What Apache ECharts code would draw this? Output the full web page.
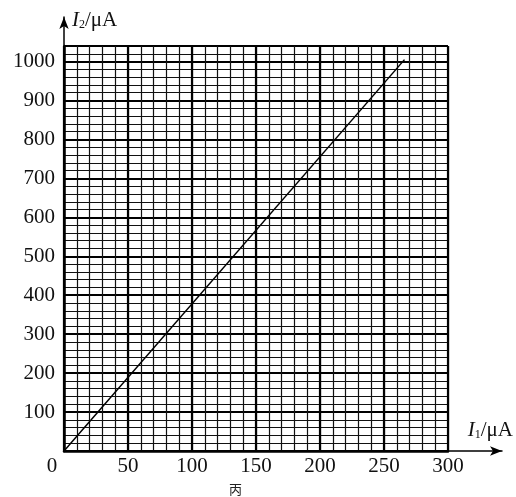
<!DOCTYPE html>
<html>
<head>
<meta charset="utf-8">
<script src="https://cdn.jsdelivr.net/npm/echarts@6/dist/echarts.min.js"></script>
<style>html,body{margin:0;padding:0;background:#fff;}#c{width:516px;height:497px;}</style>
</head>
<body>
<div id="c"></div>
<script>
// Data
const xTickLabels = [0, 50, 100, 150, 200, 250, 300];
const yTickLabels = [100, 200, 300, 400, 500, 600, 700, 800, 900, 1000];
const lineI1 = [0, 266];
const lineI2 = [0, 1005];

const FONT = '"Liberation Serif", "DejaVu Serif", serif';
const chart = echarts.init(document.getElementById('c'));
const lineData = lineI1.map((v, i) => [v, lineI2[i]]);

chart.setOption({
  animation: false,
  backgroundColor: '#fff',
  grid: [
    { left: 64, right: 68, top: 46, bottom: 46 },
    { left: 64, right: 11, top: 17, bottom: 46 }
  ],
  xAxis: [
    { gridIndex: 0, type: 'value', min: 0, max: 300, interval: 10, position: 'top',
      axisLine: { show: false }, axisTick: { show: false }, axisLabel: { show: false },
      splitLine: { show: true, lineStyle: { color: '#111', width: 1.2 } } },
    { gridIndex: 0, type: 'value', min: 0, max: 300, interval: 50, position: 'bottom',
      axisLine: { show: true, onZero: false, lineStyle: { color: '#000', width: 2.5 } },
      axisTick: { show: false },
      axisLabel: { show: true, margin: 5, color: '#111', fontFamily: FONT, fontSize: 21,
        formatter: v => xTickLabels.includes(v) ? (v === 0 ? '{z|0}' : String(v)) : '',
        rich: { z: { fontFamily: FONT, fontSize: 21, color: '#111', padding: [0, 24, 0, 0] } } },
      splitLine: { show: true, lineStyle: { color: '#000', width: 2.2 } } },
    { gridIndex: 1, type: 'value', min: 0, max: 1,
      axisLine: { show: true, onZero: false, symbol: ['none', 'arrow'], symbolSize: [7, 12], lineStyle: { color: '#000', width: 1.5 } },
      axisTick: { show: false }, axisLabel: { show: false }, splitLine: { show: false },
      name: '{i|I}{s|1}{t|/μA}', nameLocation: 'end', nameGap: 11,
      nameTextStyle: { align: 'right', verticalAlign: 'bottom', padding: [0, 0, 10, 0],
        rich: {
          i: { fontFamily: FONT, fontStyle: 'italic', fontSize: 21, color: '#111' },
          s: { fontFamily: FONT, fontSize: 12, color: '#111', verticalAlign: 'bottom', padding: [9, 0, 0, 0] },
          t: { fontFamily: FONT, fontSize: 21, color: '#111' }
        } } }
  ],
  yAxis: [
    { gridIndex: 0, type: 'value', min: 0, max: 1040, interval: 20, position: 'right',
      axisLine: { show: false }, axisTick: { show: false }, axisLabel: { show: false },
      splitLine: { show: true, lineStyle: { color: '#111', width: 1.2 } } },
    { gridIndex: 0, type: 'value', min: 0, max: 1040, interval: 100, position: 'left',
      axisLine: { show: true, onZero: false, lineStyle: { color: '#000', width: 2.5 } },
      axisTick: { show: false },
      axisLabel: { show: true, margin: 9, color: '#111', fontFamily: FONT, fontSize: 21,
        formatter: v => yTickLabels.includes(v) ? String(v) : '' },
      splitLine: { show: true, lineStyle: { color: '#000', width: 2.2 } } },
    { gridIndex: 1, type: 'value', min: 0, max: 1,
      axisLine: { show: true, onZero: false, symbol: ['none', 'arrow'], symbolSize: [7, 12], lineStyle: { color: '#000', width: 1.5 } },
      axisTick: { show: false }, axisLabel: { show: false }, splitLine: { show: false },
      name: '{i|I}{s|2}{t|/μA}', nameLocation: 'end', nameGap: -3,
      nameTextStyle: { align: 'left', verticalAlign: 'middle', padding: [0, 0, 0, 8],
        rich: {
          i: { fontFamily: FONT, fontStyle: 'italic', fontSize: 21, color: '#111' },
          s: { fontFamily: FONT, fontSize: 12, color: '#111', verticalAlign: 'bottom', padding: [9, 0, 0, 0] },
          t: { fontFamily: FONT, fontSize: 21, color: '#111' }
        } } }
  ],
  title: {
    text: '丙', left: 224, top: 478,
    textStyle: { fontFamily: '"Noto Sans CJK SC", sans-serif', fontSize: 13, fontWeight: 'normal', color: '#222' }
  },
  series: [
    { type: 'line', xAxisIndex: 1, yAxisIndex: 1, data: lineData, showSymbol: false, symbol: 'none',
      lineStyle: { color: '#000', width: 1.5 }, z: 5 }
  ]
});
</script>
</body>
</html>
